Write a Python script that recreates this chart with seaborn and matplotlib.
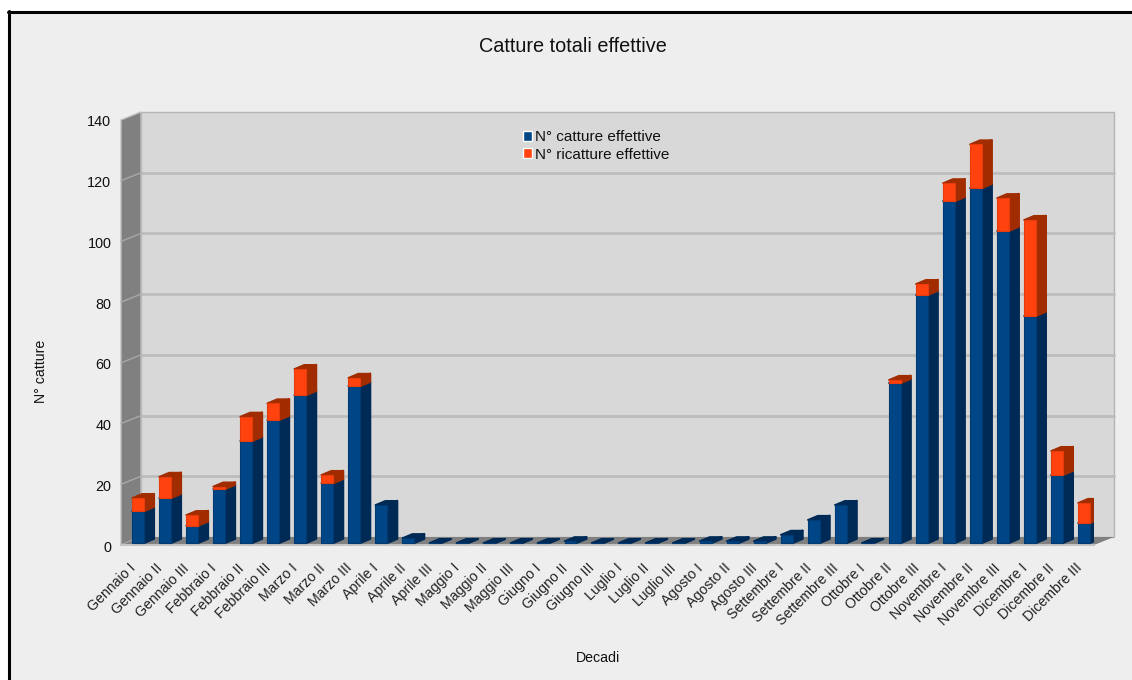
import matplotlib
matplotlib.use("Agg")
import matplotlib.pyplot as plt
import matplotlib.transforms as mtrans
from matplotlib.lines import Line2D
from matplotlib.patches import Polygon, Rectangle
import pandas as pd
import seaborn as sns

decadi = ["Gennaio I", "Gennaio II", "Gennaio III", "Febbraio I", "Febbraio II", "Febbraio III",
          "Marzo I", "Marzo II", "Marzo III", "Aprile I", "Aprile II", "Aprile III",
          "Maggio I", "Maggio II", "Maggio III", "Giugno I", "Giugno II", "Giugno III",
          "Luglio I", "Luglio II", "Luglio III", "Agosto I", "Agosto II", "Agosto III",
          "Settembre I", "Settembre II", "Settembre III", "Ottobre I", "Ottobre II", "Ottobre III",
          "Novembre I", "Novembre II", "Novembre III", "Dicembre I", "Dicembre II", "Dicembre III"]
catture = [10.5, 14.8, 5.7, 17.8, 33.6, 40.5, 48.7, 19.7, 51.7, 12.5, 1.6, 0,
           0, 0, 0, 0, 0.6, 0, 0, 0, 0, 0.6, 0.6, 0.6,
           2.7, 7.6, 12.5, 0, 52.7, 81.7, 112.6, 116.9, 102.8, 74.8, 22.4, 6.6]
ricatture = [4.3, 7, 3.5, 0.8, 8, 5.5, 8.6, 2.7, 2.7, 0, 0, 0,
             0, 0, 0, 0, 0, 0, 0, 0, 0, 0, 0, 0,
             0, 0, 0, 0, 1, 3.6, 5.9, 14.4, 10.8, 31.6, 7.9, 6.6]
tick_valori = [0, 20, 40, 60, 80, 100, 120, 140]

W, H = 1132, 680
BLU, BLU_SCURO, BLU_BORDO = "#004586", "#002a56", "#003a72"
ROSSO, ROSSO_SCURO, ROSSO_BORDO = "#ff420e", "#a02c00", "#e63b0c"
PARETE, PARETE_LATO, GRIGLIA = "#d8d8d8", "#808080", "#bcbcbc"
LARGHEZZA = 0.44

sns.set_theme(style="white")
plt.rcParams["font.family"] = ["Liberation Sans", "DejaVu Sans"]
plt.rcParams["text.color"] = "#111111"

fig = plt.figure(figsize=(W / 100, H / 100), dpi=100, facecolor="white")

# Grey panel with a heavy top and left rule
fig.add_artist(Rectangle((10 / W, 0), 1, 1 - 12 / H, transform=fig.transFigure,
                         facecolor="#eeeeee", edgecolor="none", zorder=-5))
fig.add_artist(Line2D([9.2 / W, 9.2 / W], [0, 1 - 11 / H], color="black", lw=2.2, zorder=-4))
fig.add_artist(Line2D([8.2 / W, 1], [1 - 11.5 / H, 1 - 11.5 / H], color="black", lw=2.2, zorder=-4))

# Axes cover the front plane of the pseudo-3D box, with headroom for the top tick
left, right, top, bottom = 121, 1094, 110, 545
ax = fig.add_axes([left / W, 1 - bottom / H, (right - left) / W, (bottom - top) / H])
ax.patch.set_alpha(0)
for spine in ax.spines.values():
    spine.set_visible(False)

df = pd.DataFrame({"decade": decadi, "catture": catture, "ricatture": ricatture})
sns.barplot(data=df, x="decade", y="catture", color=BLU, saturation=1, width=LARGHEZZA,
            ax=ax, zorder=4)
blue_bars = list(ax.patches)
sns.barplot(data=df, x="decade", y="ricatture", color=ROSSO, saturation=1, width=LARGHEZZA,
            bottom=catture, ax=ax, zorder=7)
red_bars = list(ax.patches)[len(blue_bars):]

# Ticks first, because setting them can widen the view limits fixed below
ax.set_yticks(tick_valori, labels=[str(v) for v in tick_valori])
ax.set_xticks(range(len(decadi)), labels=decadi)

px_x = (right - left) / 36
px_y = 3.036
y0 = -2 / px_y
ax.set_xlim(-0.5 - 3.5 / px_x, 35.5 - 3.5 / px_x)
ax.set_ylim(y0, y0 + (bottom - top) / px_y)

# Box walls: the back plane sits 20 px right of and 8 px above the front plane
wx, wy = 20 / px_x, 8 / px_y
xa, xb = ax.get_xlim()
back = y0 + wy
tv = tick_valori[-1]
ax.add_patch(Polygon([(xa + wx, back), (xb + wx, back), (xb + wx, back + tv), (xa + wx, back + tv)],
                     closed=True, fc=PARETE, ec="#b4b4b4", lw=1, zorder=0, clip_on=False))
ax.add_patch(Polygon([(xa, y0), (xa + wx, back), (xa + wx, back + tv), (xa, y0 + tv)],
                     closed=True, fc=PARETE_LATO, ec="#bfbfbf", lw=1, zorder=0.5, clip_on=False))
ax.add_patch(Polygon([(xa, y0), (xb, y0), (xb + wx, back), (xa + wx, back)],
                     closed=True, fc=PARETE_LATO, ec="none", zorder=0.5, clip_on=False))
ax.plot([xa, xb], [y0, y0], color="#c4c4c4", lw=1.5, zorder=0.6, clip_on=False)
for v in tick_valori[1:-1]:
    ax.plot([xa + wx, xb + wx], [back + v, back + v], color=GRIGLIA, lw=2, zorder=0.4, clip_on=False)
    ax.plot([xa, xa + wx], [y0 + v, back + v], color="#a8a8a8", lw=1, zorder=0.6, clip_on=False)

# Side and top faces extruded from each bar; thick round joins soften the corners
dx, dy = 10 / px_x, 4.2 / px_y


def estrudi(bars, chiaro, scuro, z, salta_vuote):
    for bar in bars:
        h = bar.get_height()
        if salta_vuote and h <= 0:
            bar.set_visible(False)
            continue
        x0, x1 = bar.get_x(), bar.get_x() + bar.get_width()
        b, t = bar.get_y(), bar.get_y() + h
        bar.set_edgecolor(chiaro)
        bar.set_linewidth(0.8)
        bar.set_joinstyle("round")
        ax.add_patch(Polygon([(x1, b), (x1 + dx, b + dy), (x1 + dx, t + dy), (x1, t)],
                             closed=True, fc=scuro, ec=scuro, lw=1.6, joinstyle="round", zorder=z))
        ax.add_patch(Polygon([(x0, t), (x1, t), (x1 + dx, t + dy), (x0 + dx, t + dy)],
                             closed=True, fc=scuro, ec=scuro, lw=1.2, joinstyle="round", zorder=z))


estrudi(blue_bars, BLU_BORDO, BLU_SCURO, 3, False)
estrudi(red_bars, ROSSO_BORDO, ROSSO_SCURO, 6, True)

# Tick label styling and offsets
ax.tick_params(axis="y", length=0, pad=7, labelsize=10.4, labelcolor="#111111")
shift = mtrans.ScaledTranslation(0, -3 / 100, fig.dpi_scale_trans)
for lab in ax.get_yticklabels():
    lab.set_transform(lab.get_transform() + shift)

ax.tick_params(axis="x", length=0, pad=11.5, labelsize=10.2, labelcolor="#222222")
shift_x = mtrans.ScaledTranslation(-9.5 / 100, 0, fig.dpi_scale_trans)
for lab in ax.get_xticklabels():
    lab.set_rotation(45)
    lab.set_ha("right")
    lab.set_va("top")
    lab.set_rotation_mode("anchor")
    lab.set_transform(lab.get_transform() + shift_x)

ax.set_xlabel("")
ax.set_ylabel("")
fig.text(573 / W, 1 - 46.5 / H, "Catture totali effettive", ha="center", va="center", fontsize=14.3, color="#111111")
fig.text(598 / W, 1 - 658 / H, "Decadi", ha="center", va="center", fontsize=10.2, color="#111111")
fig.text(41.5 / W, 1 - 371 / H, "N° catture", ha="center", va="center", rotation=90, fontsize=10.2, color="#111111")

handles = [Rectangle((0, 0), 1, 1, fc=BLU), Rectangle((0, 0), 1, 1, fc=ROSSO)]
ax.legend(handles, ["N° catture effettive", "N° ricatture effettive"], frameon=False,
          loc="upper left", bbox_to_anchor=(519.5 / W, 1 - 127 / H), bbox_transform=fig.transFigure,
          fontsize=11, handlelength=0.62, handleheight=0.62, handletextpad=0.2,
          labelspacing=0.24, borderpad=0.2, borderaxespad=0)

fig.savefig("out.png", dpi=100, facecolor=fig.get_facecolor())
